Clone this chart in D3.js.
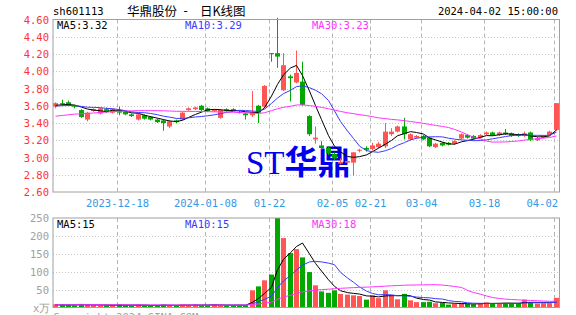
<!DOCTYPE html>
<html>
<head>
<meta charset="utf-8">
<script src="https://cdn.jsdelivr.net/npm/d3@7"></script>
<style>
body { margin: 0; background: #fff; }
text { font-family: "DejaVu Sans Mono", monospace; font-size: 10.5px; }
</style>
</head>
<body>
<svg id="svg" width="576" height="315"></svg>
<script>
var dates = ["12-04","12-05","12-06","12-07","12-08","12-11","12-12","12-13","12-14","12-15",
  "12-18","12-19","12-20","12-21","12-22","12-25","12-26","12-27","12-28","12-29",
  "01-02","01-03","01-04","01-05","01-08","01-09","01-10","01-11","01-12","01-15",
  "01-16","01-17","01-18","01-19","01-22","01-23","01-24","01-25","01-26","01-29",
  "01-30","01-31","02-01","02-02","02-05","02-06","02-07","02-08","02-19","02-20",
  "02-21","02-22","02-23","02-26","02-27","02-28","02-29","03-01","03-04","03-05",
  "03-06","03-07","03-08","03-11","03-12","03-13","03-14","03-15","03-18","03-19",
  "03-20","03-21","03-22","03-25","03-26","03-27","03-28","03-29","04-01","04-02"];

var open = [3.59,3.63,3.64,3.60,3.55,3.44,3.54,3.51,3.56,3.52,
  3.54,3.53,3.50,3.44,3.49,3.47,3.44,3.43,3.36,3.43,
  3.44,3.55,3.56,3.60,3.57,3.54,3.46,3.56,3.56,3.53,
  3.51,3.49,3.60,3.59,4.21,4.21,3.78,3.94,3.87,3.88,
  3.48,3.21,3.14,3.11,3.04,2.93,2.94,2.94,3.08,3.11,
  3.10,3.12,3.13,3.27,3.30,3.36,3.21,3.23,3.25,3.23,
  3.12,3.17,3.17,3.16,3.22,3.26,3.25,3.23,3.27,3.29,
  3.26,3.29,3.28,3.27,3.25,3.29,3.20,3.23,3.26,3.32];
var high = [3.64,3.67,3.66,3.61,3.56,3.53,3.57,3.58,3.58,3.57,
  3.59,3.54,3.51,3.51,3.50,3.48,3.45,3.44,3.43,3.44,
  3.53,3.58,3.59,3.61,3.58,3.56,3.56,3.57,3.57,3.54,
  3.52,3.77,3.61,3.84,4.21,4.62,4.21,3.96,4.24,4.11,
  3.49,3.36,3.19,3.13,3.06,2.99,3.00,3.06,3.10,3.13,
  3.17,3.18,3.40,3.34,3.37,3.46,3.28,3.26,3.26,3.24,
  3.17,3.18,3.18,3.20,3.28,3.27,3.26,3.27,3.30,3.30,
  3.30,3.33,3.29,3.28,3.30,3.30,3.24,3.26,3.31,3.63];
var low = [3.57,3.60,3.60,3.57,3.46,3.42,3.53,3.50,3.52,3.51,
  3.49,3.49,3.47,3.43,3.44,3.43,3.40,3.31,3.34,3.40,
  3.43,3.54,3.55,3.54,3.53,3.53,3.45,3.53,3.54,3.51,
  3.44,3.47,3.40,3.57,4.11,4.04,3.77,3.65,3.86,3.60,
  3.25,3.16,3.09,3.03,2.97,2.92,2.92,2.79,3.06,3.07,
  3.08,3.11,3.11,3.25,3.29,3.21,3.20,3.22,3.20,3.12,
  3.11,3.13,3.14,3.15,3.21,3.22,3.21,3.22,3.26,3.25,
  3.25,3.26,3.24,3.24,3.24,3.19,3.19,3.22,3.25,3.31];
var close = [3.63,3.62,3.61,3.59,3.47,3.52,3.56,3.57,3.53,3.56,
  3.52,3.50,3.48,3.50,3.45,3.44,3.41,3.40,3.42,3.41,
  3.52,3.57,3.58,3.55,3.54,3.55,3.55,3.54,3.55,3.52,
  3.49,3.52,3.52,3.83,4.20,4.17,4.07,3.92,3.98,3.61,
  3.27,3.23,3.11,3.05,2.99,2.95,2.96,3.06,3.09,3.09,
  3.14,3.16,3.30,3.30,3.36,3.27,3.27,3.25,3.21,3.13,
  3.16,3.14,3.15,3.19,3.27,3.23,3.22,3.26,3.29,3.26,
  3.29,3.27,3.25,3.25,3.28,3.20,3.22,3.25,3.30,3.63];
var volume = [9,8,7,6,10,8,6,5,6,7,
  9,6,5,7,6,5,6,8,6,5,
  8,7,8,6,6,9,6,6,6,6,
  7,48,59,76,92,251,194,152,163,140,
  99,62,45,41,48,38,36,34,32,22,
  34,26,48,35,23,38,20,15,15,16,
  12,13,8,10,12,10,9,12,14,12,
  12,12,11,12,22,15,11,12,12,27];

// closes and volumes of the 29 sessions before 12-04, only used to start the moving averages
var preClose = [3.36,3.38,3.35,3.37,3.40,3.39,3.38,3.41,3.40,3.42,3.41,3.39,3.43,3.45,3.44,
  3.42,3.46,3.48,3.50,3.55,3.58,3.60,3.57,3.59,3.61,3.58,3.60,3.62,3.59];
var preVol = [8,6,9,7,5,6,8,10,7,6,5,9,8,7,6,12,9,8,7,6,10,8,7,9,6,7,8,6,7];

var priceTicks = [4.60,4.40,4.20,4.00,3.80,3.60,3.40,3.20,3.00,2.80,2.60];
var volTicks = [250,200,150,100,50];
var labelIdx = [10,24,34,44,50,58,68,79];
var labelText = ["2023-12-18","2024-01-08","01-22","02-05","02-21","03-04","03-18","04-02"];
var maDays = [5,10,30];
var maPriceLast = ["3.32","3.29","3.23"];
var maVolLast = ["15","15","18"];
var maColors = ["#000000","#3a3aff","#ff33ff"];

var L = 53, R = 559.5;
var svg = d3.select("#svg");

var x = d3.scaleBand().domain(d3.range(dates.length)).range([52, 559]);
function cx(i) { return Math.round(x(i) + x.bandwidth() / 2); }
var y = d3.scaleLinear().domain([2.6, 4.6]).range([192, 19.5]);
var yv = d3.scaleLinear().domain([0, 250]).range([307.5, 218]);

function ma(all, n, offset) {
  return d3.range(dates.length).map(function(i) {
    var k = i + offset;
    return d3.mean(all.slice(k - n + 1, k + 1));
  });
}
var allClose = preClose.concat(close);
var allVol = preVol.concat(volume);

var red = "#ff5555", green = "#00a800";
function col(i) { return close[i] >= open[i] ? red : green; }

// header
svg.append("text").attr("x", 53).attr("y", 15).attr("fill", "#000").text("sh601113");
var title = svg.append("g").style("font-family", "'Noto Sans CJK SC'").style("font-size", "12.5px");
title.append("text").attr("x", 127).attr("y", 15.5).style("font-family", "inherit").style("font-size", "inherit").text("华鼎股份");
title.append("text").attr("x", 182).attr("y", 15).style("font-size", "12px").text("-");
title.append("text").attr("x", 200).attr("y", 15.5).style("font-family", "inherit").style("font-size", "inherit").text("日K线图");
svg.append("text").attr("x", 558).attr("y", 15).attr("text-anchor", "end")
  .attr("fill", "#000").text("2024-04-02 15:00:00");

// grids
svg.append("g").selectAll("line").data(priceTicks.slice(1, -1)).enter().append("line")
  .attr("x1", L).attr("x2", R).attr("y1", function(d) { return Math.round(y(d)) + 0.5; })
  .attr("y2", function(d) { return Math.round(y(d)) + 0.5; })
  .attr("stroke", "#c8c8c8").attr("stroke-dasharray", "1,2");
svg.append("g").selectAll("line").data(volTicks.slice(1)).enter().append("line")
  .attr("x1", L).attr("x2", R).attr("y1", function(d) { return Math.round(yv(d)) + 0.5; })
  .attr("y2", function(d) { return Math.round(yv(d)) + 0.5; })
  .attr("stroke", "#c8c8c8").attr("stroke-dasharray", "1,2");
[[19.5, 192], [218, 307.5]].forEach(function(p) {
  svg.append("g").selectAll("line").data(labelIdx).enter().append("line")
    .attr("x1", function(d) { return cx(d) - 1.5; }).attr("x2", function(d) { return cx(d) - 1.5; })
    .attr("y1", p[0]).attr("y2", p[1])
    .attr("stroke", "#b4b4b4").attr("stroke-dasharray", "4,3");
});

// y labels
svg.append("g").selectAll("text").data(priceTicks).enter().append("text")
  .attr("x", 49).attr("y", function(d) { return y(d) + 4; })
  .attr("text-anchor", "end").attr("fill", "#ff3333")
  .text(function(d) { return d.toFixed(2); });
svg.append("g").selectAll("text").data(volTicks).enter().append("text")
  .attr("x", 49).attr("y", function(d) { return yv(d) + 4; })
  .attr("text-anchor", "end").attr("fill", "#a0a0a0")
  .text(function(d) { return d; });
svg.append("text").attr("x", 33).attr("y", 312).attr("fill", "#a0a0a0").text("x万");

// x labels
svg.append("g").selectAll("text").data(labelIdx).enter().append("text")
  .attr("x", function(d, i) {
    var w = labelText[i].length * 6.3;
    return Math.min(cx(d) - 1.5, 558 - w / 2);
  })
  .attr("y", 207).attr("text-anchor", "middle").attr("fill", "#3399e6")
  .text(function(d, i) { return labelText[i]; });

// watermark
var wm = svg.append("text").attr("x", 246).attr("y", 174).attr("fill", "#0000ee")
  .style("font-size", "33px");
wm.append("tspan").style("font-family", "'Liberation Serif'").text("ST");
wm.append("tspan").style("font-family", "'Noto Sans CJK SC'").style("font-weight", "bold").text("华鼎");

// candles
var cg = svg.append("g");
cg.selectAll("line").data(dates).enter().append("line")
  .attr("x1", function(d, i) { return cx(i) + 0.5; }).attr("x2", function(d, i) { return cx(i) + 0.5; })
  .attr("y1", function(d, i) { return y(high[i]); }).attr("y2", function(d, i) { return y(low[i]); })
  .attr("stroke", function(d, i) { return col(i); });
cg.selectAll("rect").data(dates).enter().append("rect")
  .attr("x", function(d, i) { return cx(i) - 2; }).attr("width", 5)
  .attr("y", function(d, i) { return y(Math.max(open[i], close[i])); })
  .attr("height", function(d, i) { return Math.max(1, Math.abs(y(open[i]) - y(close[i]))); })
  .attr("fill", function(d, i) { return col(i); });

// volume bars
svg.append("g").selectAll("rect").data(volume).enter().append("rect")
  .attr("x", function(d, i) { return cx(i) - 2; }).attr("width", 5)
  .attr("y", function(d) { return Math.max(218, yv(d)); })
  .attr("height", function(d) { return 307.5 - Math.max(218, yv(d)); })
  .attr("fill", function(d, i) { return col(i); });

// moving averages
maDays.forEach(function(n, k) {
  var pm = ma(allClose, n, preClose.length);
  var vm = ma(allVol, n, preVol.length);
  svg.append("path").datum(pm)
    .attr("d", d3.line().x(function(d, i) { return cx(i) + 0.5; }).y(function(d) { return y(d); }))
    .attr("fill", "none").attr("stroke", maColors[k]).attr("stroke-width", 1);
  svg.append("path").datum(vm)
    .attr("d", d3.line().x(function(d, i) { return cx(i) + 0.5; }).y(function(d) { return yv(d); }))
    .attr("fill", "none").attr("stroke", maColors[k]).attr("stroke-width", 1);
  var lx = [57, 185, 312][k];
  svg.append("text").attr("x", lx).attr("y", 29).attr("fill", maColors[k])
    .text("MA" + n + ":" + maPriceLast[k]);
  svg.append("text").attr("x", lx).attr("y", 228).attr("fill", maColors[k])
    .text("MA" + n + ":" + maVolLast[k]);
});

// frames
svg.append("rect").attr("x", L).attr("y", 19.5).attr("width", R - L).attr("height", 172.5)
  .attr("fill", "none").attr("stroke", "#a0a0a0");
svg.append("rect").attr("x", L).attr("y", 218).attr("width", R - L).attr("height", 89.5)
  .attr("fill", "none").attr("stroke", "#a0a0a0");

svg.append("text").attr("x", 53).attr("y", 321).attr("fill", "#a0a0a0").text("Copyright 2024 SINA.COM");
</script>
</body>
</html>
